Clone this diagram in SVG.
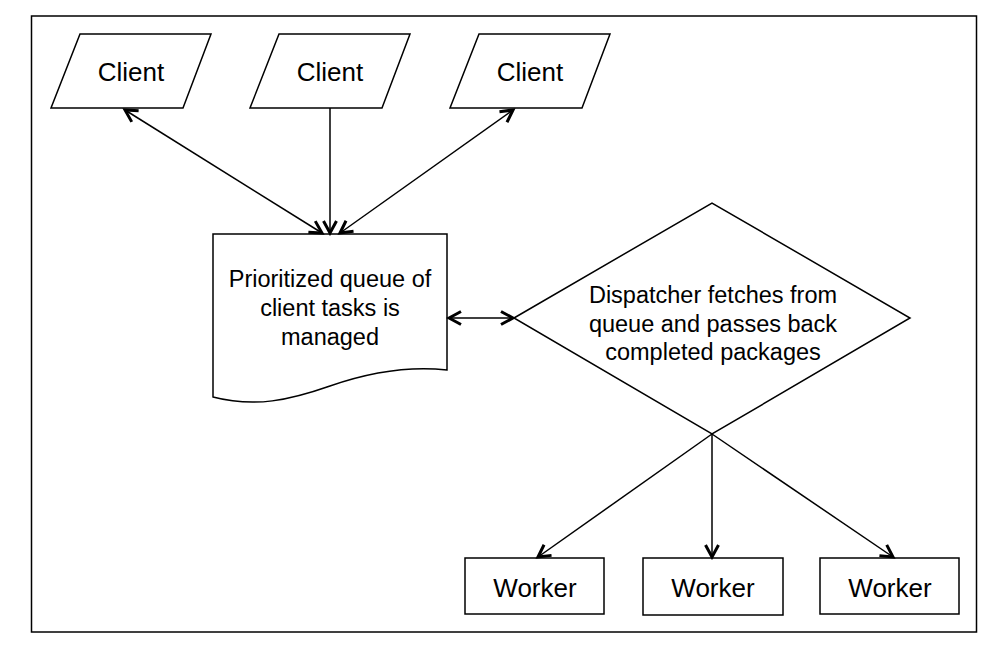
<svg xmlns="http://www.w3.org/2000/svg" width="1003" height="646" viewBox="0 0 1003 646">
<style>
.shape{fill:#fff;stroke:#000;stroke-width:1.5}
.conn{fill:none;stroke:#000;stroke-width:1.5}
text{font-family:"Liberation Sans",Arial,sans-serif;fill:#000;text-anchor:middle}
.t25{font-size:26px}
.t24{font-size:23.5px}
</style>
<defs>
<marker id="arr" viewBox="-15 -9 18 18" refX="0" refY="0" markerWidth="18" markerHeight="18" markerUnits="userSpaceOnUse" orient="auto-start-reverse">
<path d="M-12,-6.5 L0,0 L-12,6.5" fill="none" stroke="#000" stroke-width="3" stroke-linejoin="miter"/>
</marker>
</defs>
<rect x="0" y="0" width="1003" height="646" fill="#fff"/>
<rect id="frame" x="31.5" y="16" width="945" height="616" fill="#fff" stroke="#000" stroke-width="1.5"/>
<g id="client1"><polygon class="shape" points="80,34 211,34 183,108 51,108"/><text class="t25" x="131" y="81">Client</text></g>
<g id="client2"><polygon class="shape" points="279,34 410,34 382,108 250,108"/><text class="t25" x="330" y="81">Client</text></g>
<g id="client3"><polygon class="shape" points="479,34 610,34 582,108 450,108"/><text class="t25" x="530" y="81">Client</text></g>
<g id="queue"><path class="shape" d="M213,234 L447,234 L447,370 C410,366 370,372 330,386 C290,400 255,408 213,397 Z"/>
<text class="t24" x="330" y="287">Prioritized queue of</text>
<text class="t24" x="330" y="316">client tasks is</text>
<text class="t24" x="330" y="345">managed</text></g>
<g id="dispatcher"><polygon class="shape" points="514,318 712,203 910,318 712,434"/>
<text class="t24" x="713" y="303">Dispatcher fetches from</text>
<text class="t24" x="713" y="332">queue and passes back</text>
<text class="t24" x="713" y="360">completed packages</text></g>
<g id="worker1"><rect class="shape" x="465" y="558" width="139" height="56"/><text class="t25" x="535" y="597">Worker</text></g>
<g id="worker2"><rect class="shape" x="643" y="558" width="140" height="57"/><text class="t25" x="713" y="597">Worker</text></g>
<g id="worker3"><rect class="shape" x="820" y="558" width="139" height="56"/><text class="t25" x="890" y="597">Worker</text></g>
<g id="connectors">
<line class="conn" x1="125" y1="110" x2="322" y2="233" marker-start="url(#arr)" marker-end="url(#arr)"/>
<line class="conn" x1="330" y1="108" x2="330" y2="233" marker-end="url(#arr)"/>
<line class="conn" x1="513" y1="110" x2="340" y2="233" marker-start="url(#arr)" marker-end="url(#arr)"/>
<line class="conn" x1="449" y1="318" x2="513" y2="318" marker-start="url(#arr)" marker-end="url(#arr)"/>
<line class="conn" x1="712" y1="434" x2="538" y2="557" marker-end="url(#arr)"/>
<line class="conn" x1="712" y1="434" x2="712" y2="557" marker-end="url(#arr)"/>
<line class="conn" x1="712" y1="434" x2="893" y2="557" marker-end="url(#arr)"/>
</g>
</svg>
